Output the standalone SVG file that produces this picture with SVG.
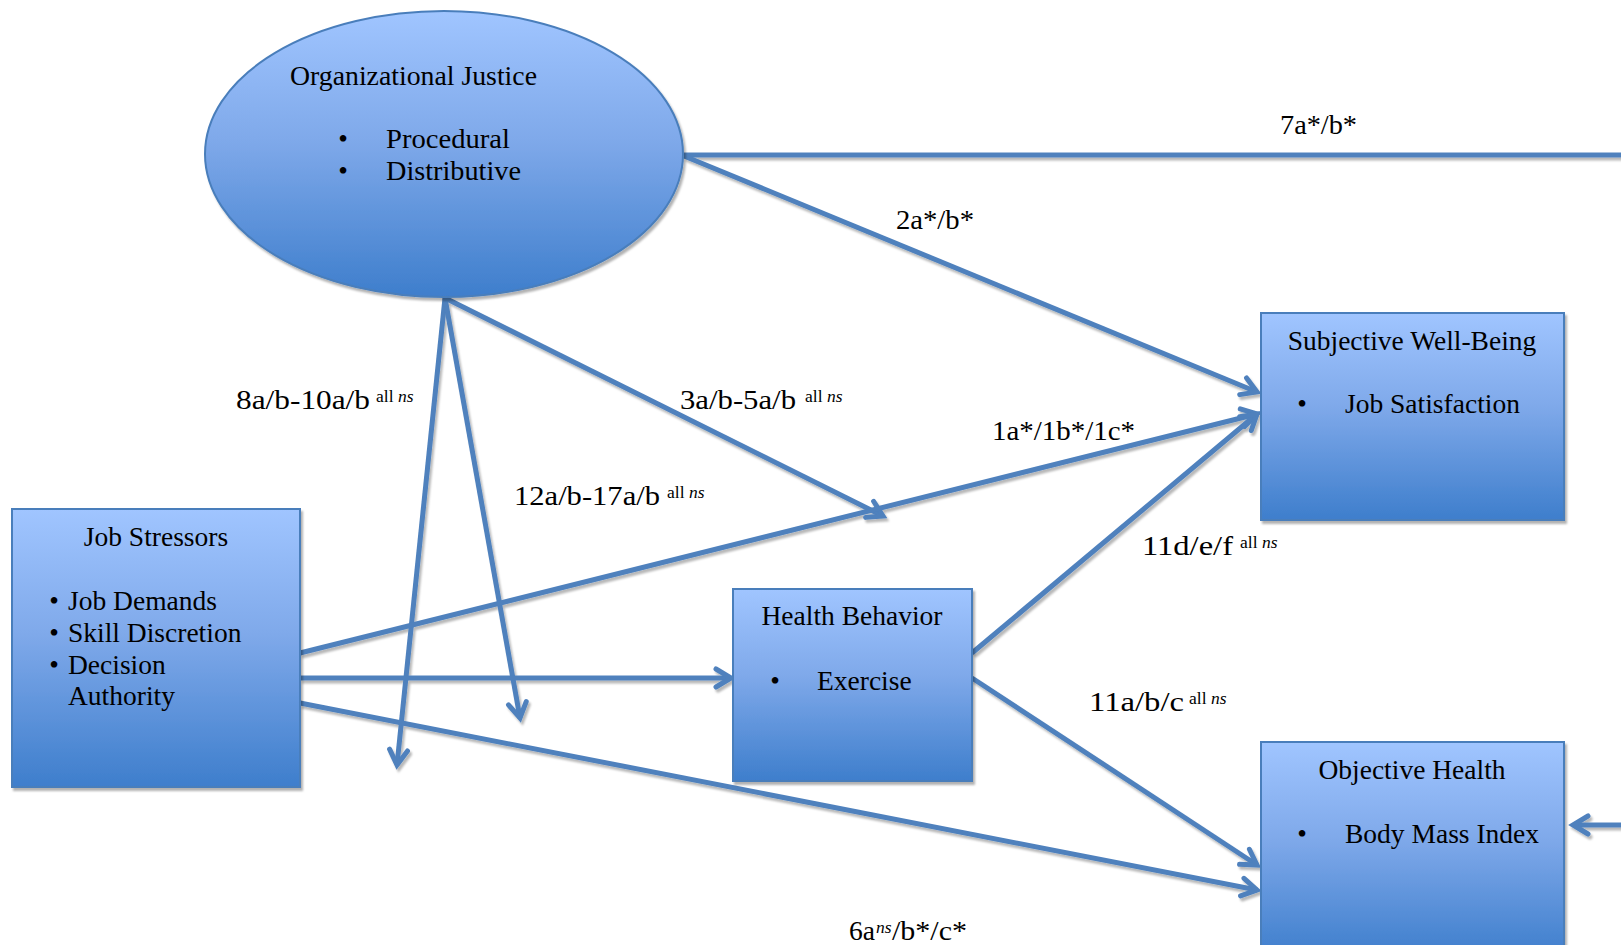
<svg xmlns="http://www.w3.org/2000/svg" width="1621" height="945" viewBox="0 0 1621 945">
<defs>
<linearGradient id="blueGrad" x1="0" y1="0" x2="0" y2="1">
<stop offset="0" stop-color="#A0C5FF"/>
<stop offset="0.45" stop-color="#7FA9EA"/>
<stop offset="1" stop-color="#3E7ECC"/>
</linearGradient>
<filter id="shadow" x="-10%" y="-10%" width="130%" height="130%">
<feDropShadow dx="2" dy="3" stdDeviation="1.2" flood-color="#000" flood-opacity="0.3"/>
</filter>
<filter id="lineShadow" x="-5%" y="-5%" width="110%" height="110%">
<feDropShadow dx="2" dy="3" stdDeviation="1" flood-color="#000" flood-opacity="0.28"/>
</filter>
<marker id="arrow" viewBox="0 0 24 24" refX="19" refY="12" markerWidth="24" markerHeight="24" markerUnits="userSpaceOnUse" orient="auto">
<path d="M4,3 L19,12 L4,21" fill="none" stroke="#4F81BD" stroke-width="5" stroke-linecap="round" stroke-linejoin="miter"/>
</marker>
</defs>
<style>
.node { fill: url(#blueGrad); stroke: #4A7EBB; stroke-width: 2; filter: url(#shadow); }
.t { font-family: "Liberation Serif", "Times New Roman", serif; font-size: 27.5px; fill: #000; }
.lbl { font-family: "Liberation Serif", "Times New Roman", serif; font-size: 27px; fill: #000; }
.sup { font-family: "Liberation Serif", "Times New Roman", serif; font-size: 17.5px; fill: #000; }
.it { font-style: italic; }
.conn { stroke: #4F81BD; stroke-width: 5; fill: none; }
.arr { marker-end: url(#arrow); }
</style>
<rect width="1621" height="945" fill="#FFFFFF"/>

<g id="connectors" filter="url(#lineShadow)">
<path class="conn" d="M684,155 L1621,155"/>
<path class="conn arr" d="M684,156 L1257,392"/>
<path class="conn arr" d="M445,298 L397,765"/>
<path class="conn arr" d="M445,298 L520,718"/>
<path class="conn arr" d="M445,298 L883,516"/>
<path class="conn arr" d="M300,653 L1257,414"/>
<path class="conn arr" d="M300,678 L731,678"/>
<path class="conn arr" d="M300,703 L1257,890"/>
<path class="conn arr" d="M972,653 L1257,414"/>
<path class="conn arr" d="M972,678 L1257,865"/>
<path class="conn arr" d="M1621,825 L1573,825"/>
</g>

<g id="org-justice">
<ellipse class="node" cx="444" cy="154" rx="239" ry="143"/>
<text class="t" x="290" y="85" textLength="247" lengthAdjust="spacingAndGlyphs">Organizational Justice</text>
<text class="t" x="343" y="148" text-anchor="middle">•</text>
<text class="t" x="386" y="148" textLength="124" lengthAdjust="spacingAndGlyphs">Procedural</text>
<text class="t" x="343" y="180" text-anchor="middle">•</text>
<text class="t" x="386" y="180" textLength="135" lengthAdjust="spacingAndGlyphs">Distributive</text>
</g>

<g id="subjective-well-being">
<rect class="node" x="1261" y="313" width="303" height="207"/>
<text class="t" x="1412" y="350" text-anchor="middle">Subjective Well-Being</text>
<text class="t" x="1302" y="413" text-anchor="middle">•</text>
<text class="t" x="1345" y="413">Job Satisfaction</text>
</g>

<g id="objective-health">
<rect class="node" x="1261" y="742" width="303" height="215"/>
<text class="t" x="1412" y="779" text-anchor="middle">Objective Health</text>
<text class="t" x="1302" y="843" text-anchor="middle">•</text>
<text class="t" x="1345" y="843">Body Mass Index</text>
</g>

<g id="job-stressors">
<rect class="node" x="12" y="509" width="288" height="278"/>
<text class="t" x="156" y="546" text-anchor="middle">Job Stressors</text>
<text class="t" x="54" y="610" text-anchor="middle">•</text>
<text class="t" x="68" y="610">Job Demands</text>
<text class="t" x="54" y="642" text-anchor="middle">•</text>
<text class="t" x="68" y="642">Skill Discretion</text>
<text class="t" x="54" y="674" text-anchor="middle">•</text>
<text class="t" x="68" y="674">Decision</text>
<text class="t" x="68" y="705">Authority</text>
</g>

<g id="health-behavior">
<rect class="node" x="733" y="589" width="239" height="192"/>
<text class="t" x="852" y="625" text-anchor="middle">Health Behavior</text>
<text class="t" x="775" y="690" text-anchor="middle">•</text>
<text class="t" x="817" y="690">Exercise</text>
</g>

<g id="labels">
<text class="lbl" x="1280" y="134" textLength="77" lengthAdjust="spacingAndGlyphs">7a*/b*</text>
<text class="lbl" x="896" y="229" textLength="78" lengthAdjust="spacingAndGlyphs">2a*/b*</text>

<text class="lbl" x="236" y="409" textLength="134" lengthAdjust="spacingAndGlyphs">8a/b-10a/b</text>
<text class="sup" x="376" y="402">all <tspan class="it">ns</tspan></text>

<text class="lbl" x="680" y="409" textLength="116" lengthAdjust="spacingAndGlyphs">3a/b-5a/b</text>
<text class="sup" x="805" y="402">all <tspan class="it">ns</tspan></text>

<text class="lbl" x="992" y="440" textLength="143" lengthAdjust="spacingAndGlyphs">1a*/1b*/1c*</text>

<text class="lbl" x="514" y="505" textLength="146" lengthAdjust="spacingAndGlyphs">12a/b-17a/b</text>
<text class="sup" x="667" y="498">all <tspan class="it">ns</tspan></text>

<text class="lbl" x="1142" y="555" textLength="91" lengthAdjust="spacingAndGlyphs">11d/e/f</text>
<text class="sup" x="1240" y="548">all <tspan class="it">ns</tspan></text>

<text class="lbl" x="1089" y="711" textLength="95" lengthAdjust="spacingAndGlyphs">11a/b/c</text>
<text class="sup" x="1189" y="704">all <tspan class="it">ns</tspan></text>

<text class="lbl" x="849" y="940" textLength="26" lengthAdjust="spacingAndGlyphs">6a</text>
<text class="sup it" x="876" y="933">ns</text>
<text class="lbl" x="892" y="940" textLength="75" lengthAdjust="spacingAndGlyphs">/b*/c*</text>
</g>
</svg>
